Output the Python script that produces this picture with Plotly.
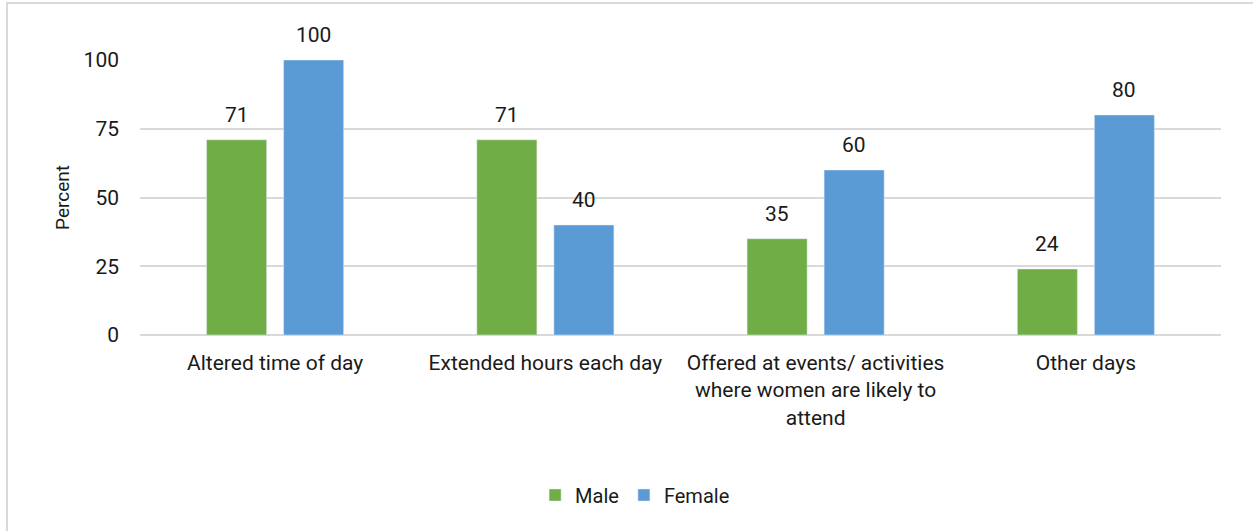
import plotly.graph_objects as go

categories = [
    "Altered time of day",
    "Extended hours each day",
    "Offered at events/ activities<br>where women are likely to<br>attend",
    "Other days",
]
male = [71, 71, 35, 24]
female = [100, 40, 60, 80]
y_ticks = [0, 25, 50, 75, 100]

GREEN = "#70AD47"
BLUE = "#5B9BD5"
GRID = "#D9D9D9"
TEXT = "#1a1a1a"
FONT = "Roboto, Arial, sans-serif"
FS = 21

W, H = 1253, 531
ML, MR, MT, MB = 140, 32, 60, 196
PW, PH = W - ML - MR, H - MT - MB
SLOT = 77  # spacing between the two bar centres within a category, px


def px_x(px):
    return (px - ML) / PW


def px_y(py):
    return (H - MB - py) / PH


fig = go.Figure()
fig.add_trace(go.Bar(name="Male", x=categories, y=male, marker_color=GREEN))
fig.add_trace(go.Bar(name="Female", x=categories, y=female, marker_color=BLUE))

# value labels above each bar
for values, shift in ((male, -SLOT / 2), (female, SLOT / 2)):
    for cat, v in zip(categories, values):
        fig.add_annotation(
            x=cat, y=v, text=str(v), showarrow=False,
            xshift=shift, yshift=25, yanchor="middle",
            font=dict(size=FS, color=TEXT, family=FONT),
        )

# outer chart frame (top and left edges visible)
fig.add_shape(
    type="rect", xref="paper", yref="paper",
    x0=px_x(7), x1=px_x(W + 20), y0=px_y(H + 20), y1=px_y(3),
    line=dict(color=GRID, width=2), fillcolor="rgba(0,0,0,0)", layer="below",
)

fig.update_layout(
    width=W, height=H,
    margin=dict(l=ML, r=MR, t=MT, b=MB, autoexpand=False),
    paper_bgcolor="white", plot_bgcolor="white",
    barmode="group", bargap=0.43, bargroupgap=0.22,
    font=dict(family=FONT, size=FS, color=TEXT),
    showlegend=True,
    legend=dict(
        orientation="h", x=0.458, xanchor="center",
        y=px_y(495), yanchor="middle",
        font=dict(size=20, color=TEXT, family=FONT),
        itemwidth=30, traceorder="normal",
    ),
)
fig.update_yaxes(
    range=[0, 100], tickvals=y_ticks, showgrid=True, gridcolor=GRID, gridwidth=2,
    zeroline=True, zerolinecolor=GRID, zerolinewidth=2, showline=False,
    tickfont=dict(size=FS, color=TEXT, family=FONT), ticklabelstandoff=20,
    title=dict(text="Percent", font=dict(size=19, color=TEXT, family=FONT), standoff=8),
)
fig.update_xaxes(
    showgrid=False, showline=False, ticks="",
    tickfont=dict(size=FS, color=TEXT, family=FONT), ticklabelstandoff=13,
)

fig.write_html("out.html")
